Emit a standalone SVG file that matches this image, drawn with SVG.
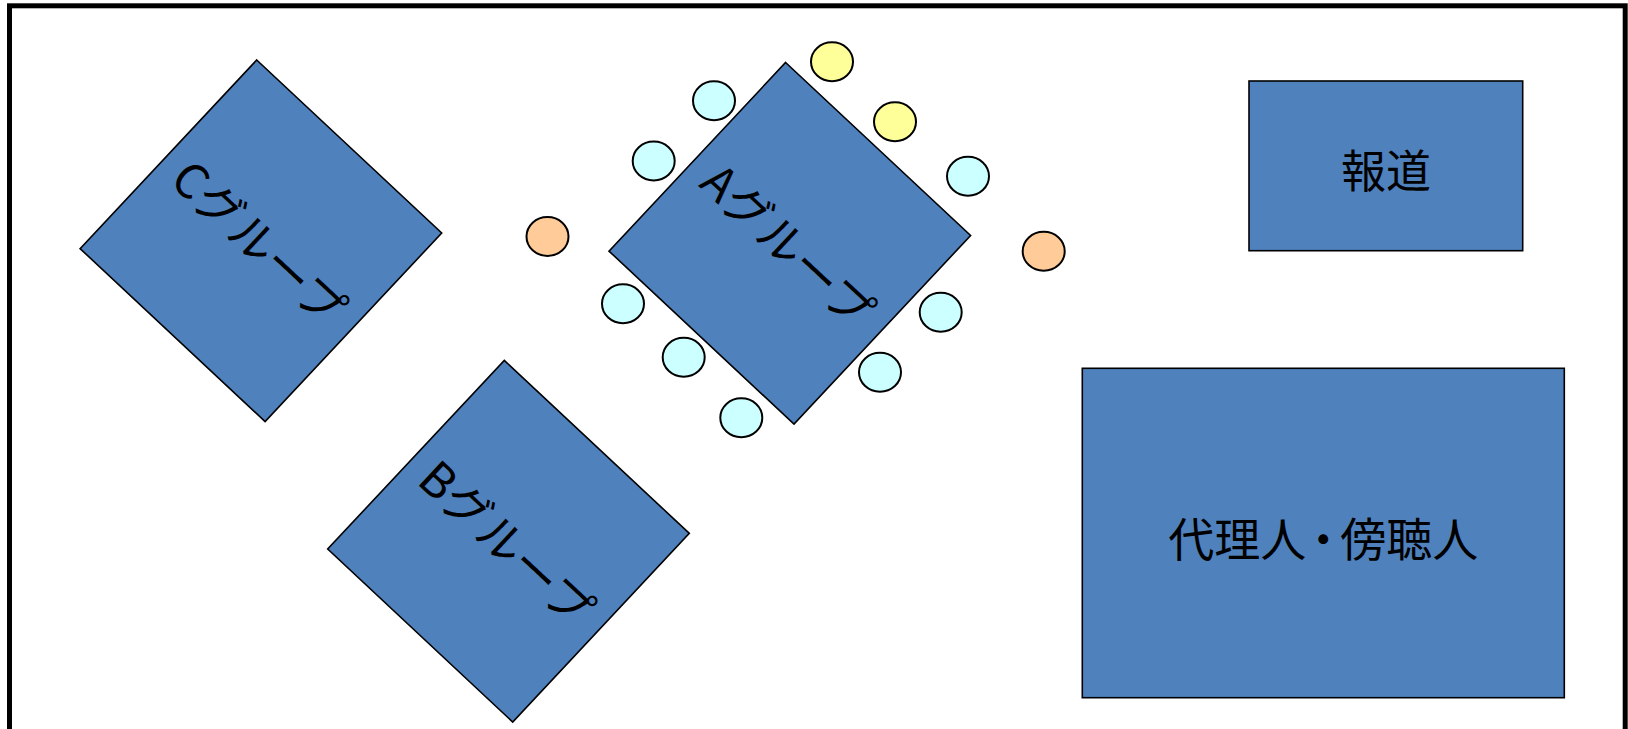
<svg xmlns="http://www.w3.org/2000/svg" width="1628" height="729" viewBox="0 0 1628 729">
  <style>
    .table { fill: #4F81BD; stroke: #000; stroke-width: 1.6; }
    .seat { stroke: #000; stroke-width: 2; }
    .member { fill: #CCFFFF; }
    .chair { fill: #FFFF99; }
    .staff { fill: #FFCC99; }
    .label { font-family: "Noto Sans CJK JP", "Noto Sans", sans-serif; font-size: 45px; fill: #000; text-anchor: middle; dominant-baseline: central; }
    .tilted { font-size: 47px; }
  </style>
  <defs>
    <!-- tilted table, centred on the origin -->
    <polygon id="tilted-table" points="-4.2,-180.8 180.8,-7.8 4.2,180.8 -180.8,7.8"/>
  </defs>

  <rect width="1628" height="729" fill="#fff"/>
  <!-- room outline -->
  <rect x="9.5" y="5.8" width="1615.7" height="820" fill="none" stroke="#000" stroke-width="5"/>

  <g id="group-c" transform="translate(260.9,240.8)">
    <use href="#tilted-table" class="table"/>
    <text class="label tilted" transform="rotate(43)">Cグループ</text>
  </g>

  <g id="group-b" transform="translate(508.5,541.2)">
    <use href="#tilted-table" class="table"/>
    <text class="label tilted" transform="rotate(43)">Bグループ</text>
  </g>

  <g id="group-a" transform="translate(789.8,243.3)">
    <use href="#tilted-table" class="table"/>
    <text class="label tilted" transform="rotate(43)">Aグループ</text>
  </g>

  <g id="seats">
    <ellipse class="seat chair" cx="832" cy="61.7" rx="21" ry="19.5"/>
    <ellipse class="seat chair" cx="895" cy="121.7" rx="21" ry="19.5"/>
    <ellipse class="seat member" cx="714" cy="100.7" rx="21" ry="19.5"/>
    <ellipse class="seat member" cx="653.7" cy="161" rx="21" ry="19.5"/>
    <ellipse class="seat member" cx="968" cy="176.3" rx="21" ry="19.5"/>
    <ellipse class="seat staff" cx="547.5" cy="236.5" rx="21" ry="19.5"/>
    <ellipse class="seat staff" cx="1043.7" cy="251.3" rx="21" ry="19.5"/>
    <ellipse class="seat member" cx="623" cy="303.7" rx="21" ry="19.5"/>
    <ellipse class="seat member" cx="683.7" cy="357.3" rx="21" ry="19.5"/>
    <ellipse class="seat member" cx="741.3" cy="417.7" rx="21" ry="19.5"/>
    <ellipse class="seat member" cx="940.7" cy="312.3" rx="21" ry="19.5"/>
    <ellipse class="seat member" cx="880" cy="372.3" rx="21" ry="19.5"/>
  </g>

  <g id="press">
    <rect class="table" x="1249" y="81" width="273.7" height="169.7"/>
    <text class="label" x="1385.9" y="168.5">報道</text>
  </g>

  <g id="gallery">
    <rect class="table" x="1082.3" y="368.3" width="482" height="329.4"/>
    <text class="label" x="1323.3" y="536" style="font-size:46px" dx="0 0 0 -6 -6 0 0">代理人・傍聴人</text>
  </g>

  <g id="connectors"/>
</svg>
